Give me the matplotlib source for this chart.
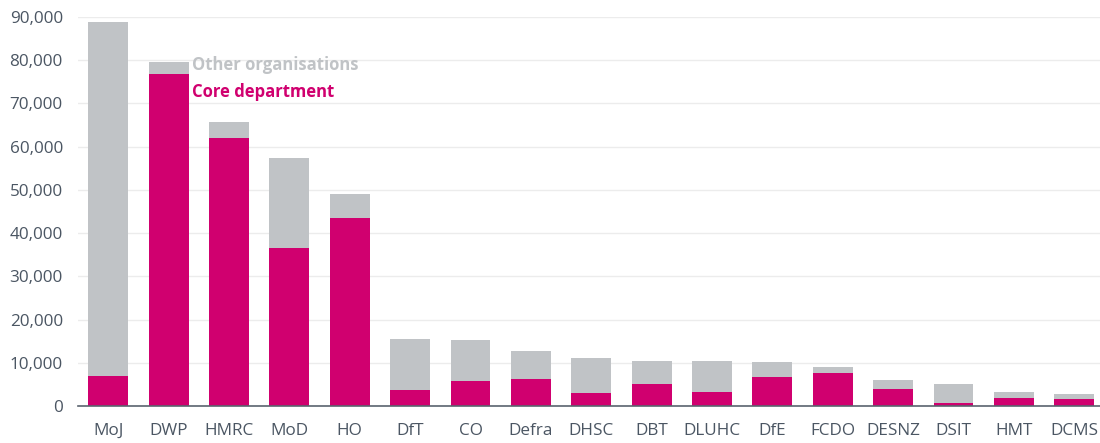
import numpy as np
import matplotlib as mpl
mpl.use('Agg')
import matplotlib.pyplot as plt

depts = ['MoJ', 'DWP', 'HMRC', 'MoD', 'HO', 'DfT', 'CO', 'Defra', 'DHSC', 'DBT',
         'DLUHC', 'DfE', 'FCDO', 'DESNZ', 'DSIT', 'HMT', 'DCMS']
core = [7000, 76900, 62000, 36600, 43500, 3700, 5700, 6200, 3000, 5200,
        3200, 6600, 7700, 4000, 700, 1900, 1600]
total = [88900, 79700, 65700, 57400, 49100, 15500, 15200, 12800, 11000, 10500,
         10300, 10200, 9000, 6000, 5200, 3200, 2700]
other = [t - c for t, c in zip(total, core)]

c_core = '#d0006f'
c_other = '#c0c3c6'
c_text = '#4b5663'

plt.rcParams['font.family'] = ['Open Sans', 'DejaVu Sans']

fig = plt.figure(figsize=(11, 4.43), dpi=100)
ax = fig.add_axes([0.071, 0.0835, 0.933, 0.878])

x = np.arange(len(depts))
ax.bar(x, core, width=0.66, color=c_core, zorder=2)
ax.bar(x, other, width=0.66, bottom=core, color=c_other, zorder=2)

ax.set_xlim(-0.5, 16.5)
ax.set_ylim(0, 90000)
ax.set_yticks(np.arange(0, 90001, 10000))
ax.yaxis.set_major_formatter(mpl.ticker.FuncFormatter(lambda v, p: '{:,.0f}'.format(v)))
ax.set_xticks(x)
ax.set_xticklabels(depts)
ax.grid(axis='y', color='#ececec', linewidth=1, zorder=0)
for s in ['top', 'right', 'left']:
  ax.spines[s].set_visible(False)
ax.spines['bottom'].set_color('#5a636e')
ax.spines['bottom'].set_linewidth(1.2)
ax.spines['bottom'].set_zorder(3)
ax.tick_params(axis='both', length=0, labelsize=12.3, colors=c_text)
ax.tick_params(axis='x', pad=12)
ax.tick_params(axis='y', pad=11)

ax.text(0.111, 0.877, 'Other organisations', transform=ax.transAxes, color=c_other,
        fontsize=12, fontweight='bold', va='center', ha='left')
ax.text(0.111, 0.807, 'Core department', transform=ax.transAxes, color=c_core,
        fontsize=12, fontweight='bold', va='center', ha='left')

plt.savefig('out.png', dpi=100)
plt.close()
